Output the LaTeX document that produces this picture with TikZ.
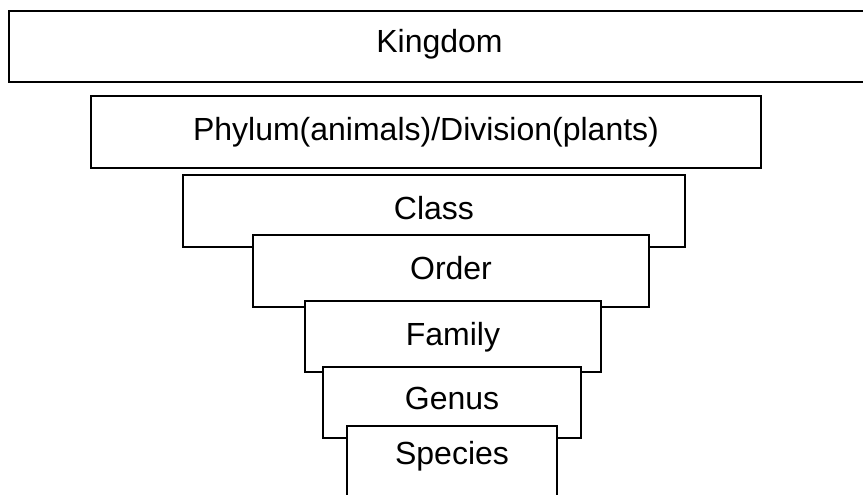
\documentclass[tikz,border=0pt]{standalone}
\usepackage{fontspec}
\setmainfont{Liberation Sans}
\begin{document}
\begin{tikzpicture}[x=1pt,y=-1pt,
  rank/.style 2 args={draw=black, fill=white, line width=1.8pt, rectangle, inner sep=0pt,
    minimum width=#1, minimum height=#2, font=\fontsize{32}{38}\selectfont,
    text height=23pt, text depth=7pt},
  deep/.style={text depth=#1}]
\useasboundingbox (0,0) rectangle (863,495);
\fill[white] (0,0) rectangle (863,495);
\node[rank={861pt}{71pt}, deep=11pt] (kingdom) at (439.5,46.5) {Kingdom};
\node[rank={670pt}{72pt}] (phylum) at (426,132) {Phylum(animals)/Division(plants)};
\node[rank={502pt}{72pt}] (class) at (434,211) {Class};
\node[rank={396pt}{72pt}] (order) at (451,271) {Order};
\node[rank={296pt}{71pt}, deep=5pt] (family) at (453,336.5) {Family};
\node[rank={258pt}{71pt}, deep=9pt] (genus) at (452,402.5) {Genus};
\node[rank={210pt}{71pt}, deep=17pt] (species) at (452,461.5) {Species};
\end{tikzpicture}
\end{document}
